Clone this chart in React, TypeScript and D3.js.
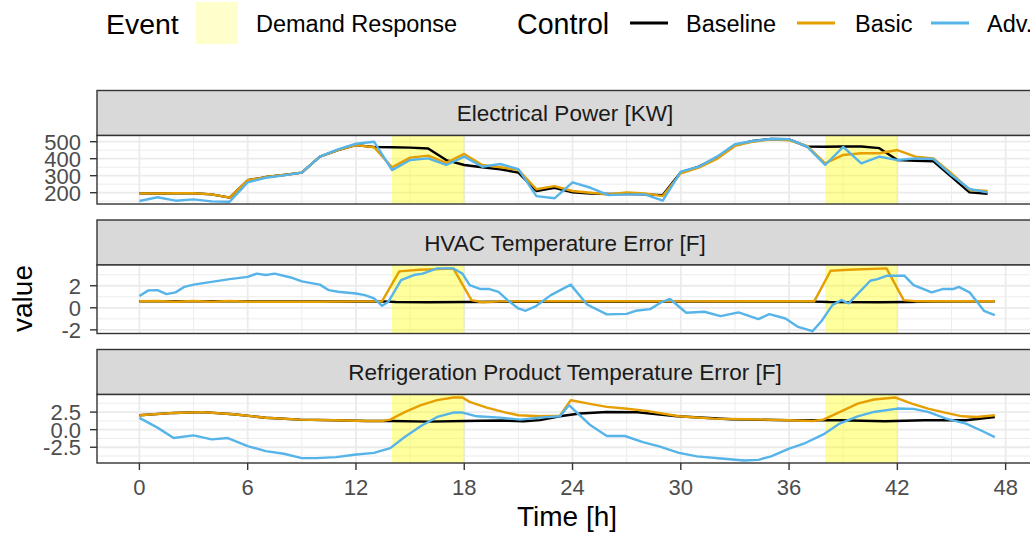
import React from "react";
import * as d3 from "d3";

// ---------------- DATA ----------------
const hours = [0, 1, 2, 3, 4, 5, 6, 7, 8, 9, 10, 11, 12, 13, 14, 15, 16, 17, 18, 19, 20, 21, 22, 23,
  24, 25, 26, 27, 28, 29, 30, 31, 32, 33, 34, 35, 36, 37, 38, 39, 40, 41, 42, 43, 44, 45, 46, 47];

const powerBaseline = [196, 195, 197, 197, 190, 171, 273, 292, 304, 318, 412, 451, 480, 469, 467, 465,
  460, 392, 363, 350, 338, 318, 210, 229, 202, 195, 192, 192, 190, 186, 320, 353, 406, 480, 504, 516,
  514, 471, 470, 472, 472, 462, 392, 388, 385, 294, 202, 194];
const powerBasic = [196, 195, 197, 197, 190, 171, 273, 292, 304, 318, 412, 451, 480, 467, 349, 406,
  418, 376, 428, 363, 350, 334, 220, 239, 210, 200, 190, 202, 196, 180, 314, 347, 398, 475, 500, 514,
  508, 476, 373, 422, 432, 432, 451, 412, 402, 314, 216, 210];
const powerAdv = [151, 173, 153, 161, 149, 147, 261, 288, 302, 318, 412, 455, 488, 500, 333, 392,
  402, 363, 412, 353, 369, 339, 180, 167, 261, 229, 186, 190, 190, 153, 324, 353, 412, 485, 504, 516,
  514, 471, 363, 469, 373, 412, 392, 402, 398, 304, 222, 202];

const hvacBaseline: [number, number][] = [[0, 0.6], [4, 0.6], [8, 0.57], [13.5, 0.58], [14.2, 0.52],
  [16, 0.5], [18, 0.53], [20, 0.55], [26, 0.55], [32, 0.56], [37.4, 0.56], [38.2, 0.52], [41, 0.5],
  [42.5, 0.52], [44, 0.56], [47.4, 0.6]];
const hvacBasic: [number, number][] = [[0, 0.6], [1, 0.62], [2, 0.55], [3, 0.62], [4, 0.55], [5, 0.62],
  [6, 0.55], [8, 0.55], [10, 0.55], [12, 0.58], [13.45, 0.6], [14.4, 3.3], [15.5, 3.45], [17.4, 3.55],
  [18.4, 0.7], [19, 0.5], [20, 0.58], [22, 0.6], [26, 0.6], [30, 0.58], [34, 0.6], [37.4, 0.6],
  [38.3, 3.36], [39.3, 3.45], [41.4, 3.57], [42.35, 0.7], [43, 0.6], [47.4, 0.6]];
const hvacAdv: [number, number][] = [[0, 1.06], [0.5, 1.58], [1, 1.6], [1.5, 1.24], [2, 1.4], [2.5, 1.9],
  [3, 2.1], [4, 2.35], [5, 2.6], [6, 2.8], [6.5, 3.1], [7, 2.97], [7.5, 3.1], [8.5, 2.7], [9, 2.4],
  [10, 2.1], [10.5, 1.6], [11, 1.45], [12, 1.3], [12.5, 1.15], [13, 0.85], [13.45, 0.18], [13.8, 0.55],
  [14.5, 2.5], [15.2, 2.97], [15.7, 3.1], [16.5, 3.57], [17.4, 3.57], [17.9, 3.1], [18.3, 2.06],
  [18.9, 1.7], [19.4, 1.7], [19.9, 1.45], [20.4, 0.7], [21, -0.06], [21.4, -0.27], [22, 0.18],
  [22.8, 1.15], [23.9, 2.1], [24.8, 0.3], [25.9, -0.6], [27, -0.55], [27.5, -0.27], [28.3, -0.12],
  [28.9, 0.48], [29.4, 0.8], [30.3, -0.45], [31.3, -0.36], [32.2, -0.76], [33.2, -0.42], [34.3, -1.03],
  [34.9, -0.58], [35.8, -0.97], [36.5, -1.73], [37.3, -2.12], [37.8, -1.2], [38.4, 0.24], [38.9, 0.7],
  [39.3, 0.4], [40.5, 2.45], [40.9, 2.6], [41.4, 2.9], [42.4, 2.9], [42.9, 2.06], [43.9, 1.4],
  [44.5, 1.7], [45.1, 1.7], [45.4, 1.9], [46, 1.4], [46.8, -0.27], [47.4, -0.67]];

const refBaseline: [number, number][] = [[0, 2.05], [1.9, 2.38], [3.5, 2.5], [5.2, 2.2], [7, 1.7],
  [8.9, 1.43], [10.8, 1.33], [12.6, 1.24], [14, 1.24], [16, 1.15], [18, 1.24], [20, 1.3], [21.3, 1.2],
  [22.2, 1.35], [23.3, 1.9], [24.4, 2.29], [25.9, 2.52], [27.6, 2.48], [29.8, 1.9], [32.8, 1.48],
  [36, 1.33], [38.8, 1.33], [41.3, 1.19], [43.5, 1.33], [45.8, 1.33], [47.4, 1.81]];
const refBasic: [number, number][] = [[0, 2.05], [1.9, 2.38], [3.5, 2.5], [5.2, 2.2], [7, 1.7],
  [8.9, 1.43], [10.8, 1.33], [12.6, 1.24], [13.5, 1.24], [13.9, 1.43], [14.7, 2.5], [15.6, 3.48],
  [16.5, 4.2], [17.4, 4.57], [17.9, 4.57], [18.3, 3.95], [19.25, 3.14], [20.2, 2.5], [21, 2.05],
  [22.2, 1.9], [23.3, 2.0], [23.9, 4.19], [24.9, 3.7], [25.9, 3.24], [26.9, 3.0], [28.1, 2.67],
  [29.9, 1.9], [31.8, 1.57], [33.7, 1.48], [36, 1.33], [37.3, 1.24], [37.9, 1.43], [38.8, 2.5],
  [39.8, 3.7], [40.7, 4.29], [41.9, 4.57], [42.8, 3.7], [43.7, 3.0], [44.7, 2.38], [45.6, 1.9],
  [46.4, 1.81], [47.4, 2.05]];
const refAdv: [number, number][] = [[0, 1.67], [1, 0.29], [1.9, -1.19], [3, -0.81], [4, -1.38],
  [4.9, -1.19], [6, -2.33], [7, -3.05], [8, -3.43], [9, -4.05], [9.8, -4.05], [10.9, -3.9],
  [11.9, -3.57], [13, -3.3], [13.9, -2.62], [14.7, -1.05], [15.6, 0.52], [16.5, 1.81], [17.4, 2.43],
  [17.9, 2.43], [18.7, 1.9], [20, 1.71], [21.1, 1.43], [22.2, 1.71], [23.3, 1.9], [23.8, 3.48],
  [24.4, 2.05], [25, 0.62], [25.9, -0.9], [26.9, -0.9], [27.9, -1.76], [28.8, -2.38], [29.9, -3.29],
  [30.9, -3.8], [32.4, -4.14], [33.5, -4.38], [34.3, -4.29], [35, -3.8], [36, -2.71], [36.9, -1.9],
  [37.9, -0.67], [38.8, 0.86], [39.8, 1.9], [40.7, 2.52], [42, 3.0], [42.9, 2.95], [43.7, 2.52],
  [44.7, 1.57], [45.8, 0.86], [46.7, -0.19], [47.4, -1.05]];

const stripTitles = ["Electrical Power [KW]", "HVAC Temperature Error [F]",
  "Refrigeration Product Temperature Error [F]"];
const yDomains: [number, number][] = [[133.5, 536.5], [-2.33, 3.88], [-4.74, 5.0]];
const yMajorTicks = [[200, 300, 400, 500], [-2, 0, 2], [-2.5, 0, 2.5]];
const yTickLabels = [["200", "300", "400", "500"], ["-2", "0", "2"], ["-2.5", "0.0", "2.5"]];
const yMinorTicks = [[150, 250, 350, 450], [-1, 1, 3], [-3.75, -1.25, 1.25, 3.75]];
const xMajorTicks = [0, 6, 12, 18, 24, 30, 36, 42, 48];
const xMinorTicks = [3, 9, 15, 21, 27, 33, 39, 45];
const eventStart = [14, 38];
const eventEnd = [18, 42];
const controlNames = ["Baseline", "Basic", "Adv."];
const controlColors = ["#000000", "#E69F00", "#56B4E9"];

// ---------------- LAYOUT ----------------
const FONT = "'Liberation Sans', Arial, Helvetica, sans-serif";
const panelLeft = 97;
const panelRight = 1030;
const panelTops = [135.5, 265, 394.5];
const panelH = 68.5;
const stripH = 45;

export default function App() {
  const x = d3.scaleLinear().domain([-2.35, 49.35]).range([panelLeft, panelRight]);
  const powerSeries = [powerBaseline, powerBasic, powerAdv].map(
    (arr) => hours.map((h, i) => [h, arr[i]] as [number, number])
  );
  const panelSeries: [number, number][][][] = [
    powerSeries,
    [hvacBaseline, hvacBasic, hvacAdv],
    [refBaseline, refBasic, refAdv],
  ];

  return (
    <svg width={1030} height={533} style={{ position: "absolute", left: 0, top: 0 }}
      fontFamily={FONT}>
      <rect x={0} y={0} width={1030} height={533} fill="#ffffff" />
      {/* Legend */}
      <g>
        <text x={106} y={34} fontSize={28.4} fill="#000">Event</text>
        <rect x={196} y={2} width={42} height={42} fill="#FFFFCC" />
        <text x={256} y={32} fontSize={23.5} fill="#000">Demand Response</text>
        <text x={517} y={34} fontSize={28.6} fill="#000">Control</text>
        {controlNames.map((n, i) => {
          const x0 = [630, 797, 931][i];
          const tx = [686, 855, 987][i];
          return (
            <g key={n}>
              <line x1={x0} x2={x0 + 38} y1={23} y2={23} stroke={controlColors[i]} strokeWidth={3} />
              <text x={tx} y={32} fontSize={23.5} fill="#000">{n}</text>
            </g>
          );
        })}
      </g>
      <defs>
        {panelTops.map((t, k) => (
          <clipPath id={`clip${k}`} key={k}>
            <rect x={panelLeft} y={t} width={panelRight - panelLeft} height={panelH} />
          </clipPath>
        ))}
      </defs>
      {panelTops.map((top, k) => {
        const y = d3.scaleLinear().domain(yDomains[k]).range([top + panelH, top]);
        const line = d3.line<[number, number]>().x((d) => x(d[0])).y((d) => y(d[1]));
        return (
          <g key={k}>
            {/* strip */}
            <rect x={panelLeft} y={top - stripH} width={panelRight - panelLeft + 5} height={stripH}
              fill="#D9D9D9" stroke="#333333" strokeWidth={1.4} />
            <text x={(panelLeft + panelRight) / 2 + 1.5} y={top - stripH / 2 + 8} fontSize={22.5}
              fill="#1A1A1A" textAnchor="middle">{stripTitles[k]}</text>
            {/* panel background */}
            <rect x={panelLeft} y={top} width={panelRight - panelLeft} height={panelH} fill="#fff" />
            <g clipPath={`url(#clip${k})`}>
              {yMinorTicks[k].map((v) => (
                <line key={"ym" + v} x1={panelLeft} x2={panelRight} y1={y(v)} y2={y(v)}
                  stroke="#EBEBEB" strokeWidth={0.9} />
              ))}
              {xMinorTicks.map((v) => (
                <line key={"xm" + v} x1={x(v)} x2={x(v)} y1={top} y2={top + panelH}
                  stroke="#EBEBEB" strokeWidth={0.9} />
              ))}
              {yMajorTicks[k].map((v) => (
                <line key={"yM" + v} x1={panelLeft} x2={panelRight} y1={y(v)} y2={y(v)}
                  stroke="#EBEBEB" strokeWidth={1.8} />
              ))}
              {xMajorTicks.map((v) => (
                <line key={"xM" + v} x1={x(v)} x2={x(v)} y1={top} y2={top + panelH}
                  stroke="#EBEBEB" strokeWidth={1.8} />
              ))}
              {eventStart.map((s, i) => (
                <rect key={"ev" + i} x={x(s)} y={top} width={x(eventEnd[i]) - x(s)} height={panelH}
                  fill="#FFFF00" fillOpacity={0.38} />
              ))}
              {panelSeries[k].map((s, i) => (
                <path key={"s" + i} d={line(s) || ""} fill="none" stroke={controlColors[i]}
                  strokeWidth={2.4} strokeLinejoin="round" />
              ))}
            </g>
            <rect x={panelLeft} y={top} width={panelRight - panelLeft + 5} height={panelH}
              fill="none" stroke="#333333" strokeWidth={1.4} />
            {/* y axis */}
            {yMajorTicks[k].map((v, i) => (
              <g key={"yt" + v}>
                <line x1={panelLeft - 7} x2={panelLeft} y1={y(v)} y2={y(v)} stroke="#333333"
                  strokeWidth={1.4} />
                <text x={panelLeft - 16} y={y(v)} dy="0.36em" fontSize={22} fill="#4D4D4D"
                  textAnchor="end">{yTickLabels[k][i]}</text>
              </g>
            ))}
          </g>
        );
      })}
      {/* x axis */}
      {xMajorTicks.map((v) => (
        <g key={"xt" + v}>
          <line x1={x(v)} x2={x(v)} y1={panelTops[2] + panelH} y2={panelTops[2] + panelH + 7}
            stroke="#333333" strokeWidth={1.4} />
          <text x={x(v)} y={495} fontSize={22} fill="#4D4D4D" textAnchor="middle">{String(v)}</text>
        </g>
      ))}
      <text x={567} y={526} fontSize={28} fill="#000" textAnchor="middle">Time [h]</text>
      <text transform="translate(31.5,298.5) rotate(-90)" fontSize={28} fill="#000"
        textAnchor="middle">value</text>
    </svg>
  );
}
